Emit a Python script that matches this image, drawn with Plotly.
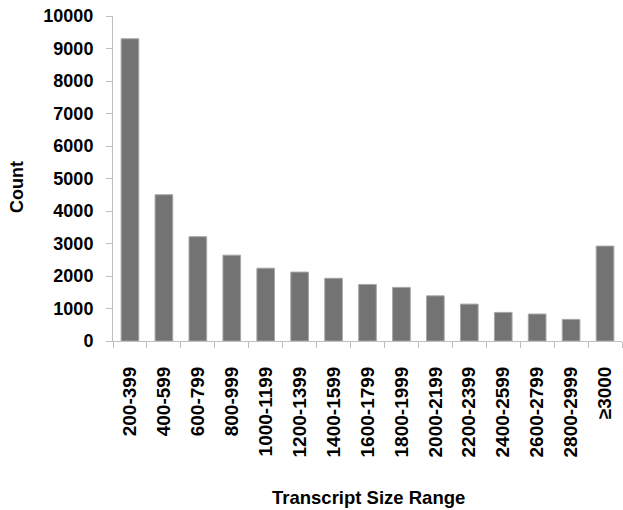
import plotly.graph_objects as go

categories = ["200-399", "400-599", "600-799", "800-999", "1000-1199", "1200-1399",
              "1400-1599", "1600-1799", "1800-1999", "2000-2199", "2200-2399",
              "2400-2599", "2600-2799", "2800-2999", "≥3000"]
counts = [9300, 4500, 3210, 2640, 2240, 2120, 1930, 1740, 1650, 1390, 1135, 880, 830, 665, 2920]
y_ticks = [0, 1000, 2000, 3000, 4000, 5000, 6000, 7000, 8000, 9000, 10000]
y_tick_text = [str(v) for v in y_ticks]

W, H = 623, 510
L, R, T, B = 113, 1, 16, 169
pw, ph = W - L - R, H - T - B

fig = go.Figure(go.Bar(
    x=categories, y=counts,
    marker=dict(color="#737373", line=dict(color="#a6a6a6", width=1)),
    width=0.52,
))

font_family = "Liberation Sans, Arial, sans-serif"
fig.update_layout(
    width=W, height=H,
    margin=dict(l=L, r=R, t=T, b=B, autoexpand=False),
    plot_bgcolor="white", paper_bgcolor="white",
    showlegend=False,
    font=dict(family=font_family, color="black"),
    xaxis=dict(
        type="category", automargin=False,
        showline=True, linecolor="#bfbfbf", linewidth=1,
        ticks="outside", tickson="boundaries", ticklen=6, tickcolor="#bfbfbf",
        tickangle=-90,
        tickfont=dict(size=19, family=font_family, weight="bold", color="black"),
        ticklabelstandoff=17,
        showgrid=False,
    ),
    yaxis=dict(
        range=[0, 10000], tickvals=y_ticks, ticktext=y_tick_text, automargin=False,
        showline=True, linecolor="#bfbfbf", linewidth=1,
        ticks="outside", ticklen=6, tickcolor="#bfbfbf",
        tickfont=dict(size=18, family=font_family, weight="bold", color="black"),
        ticklabelstandoff=9,
        showgrid=False, zeroline=False,
    ),
    annotations=[
        dict(text="<b>Transcript Size Range</b>", xref="paper", yref="paper",
             x=(368 - L) / pw, y=(341 - 498) / ph, xanchor="center", yanchor="middle",
             showarrow=False, font=dict(size=18.5, family=font_family, color="black")),
        dict(text="<b>Count</b>", xref="paper", yref="paper",
             x=(17 - L) / pw, y=(341 - 187) / ph, xanchor="center", yanchor="middle",
             textangle=-90, showarrow=False,
             font=dict(size=18, family=font_family, color="black")),
    ],
)

fig.write_html("out.html", config={"displayModeBar": False},
               post_script="document.body.style.margin='0';")
